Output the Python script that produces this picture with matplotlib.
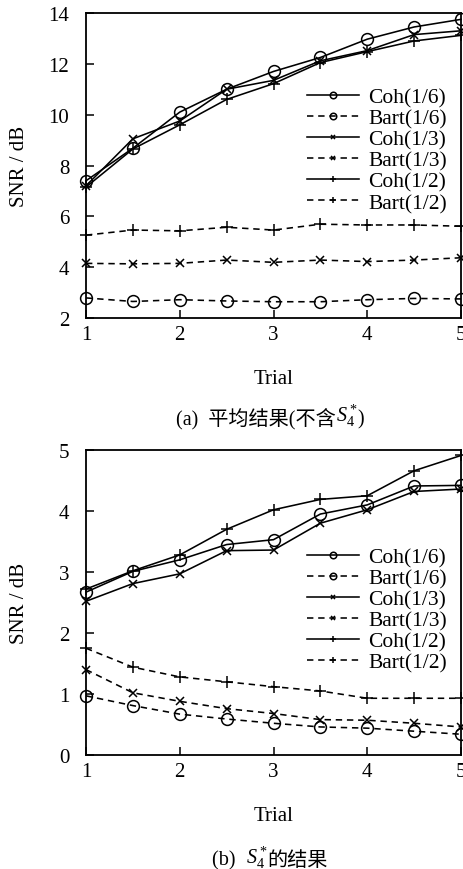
import matplotlib
matplotlib.use("Agg")
import matplotlib.pyplot as plt

# ---- data ----
trials = [1, 1.5, 2, 2.5, 3, 3.5, 4, 4.5, 5]
labels = ["Coh(1/6)", "Bart(1/6)", "Coh(1/3)", "Bart(1/3)", "Coh(1/2)", "Bart(1/2)"]

# (a) average results
a_coh16 = [7.4, 8.68, 10.1, 11.0, 11.7, 12.25, 12.97, 13.45, 13.75]
a_bart16 = [2.79, 2.65, 2.72, 2.67, 2.64, 2.64, 2.72, 2.77, 2.75]
a_coh13 = [7.2, 9.05, 9.75, 11.0, 11.35, 12.12, 12.52, 13.15, 13.3]
a_bart13 = [4.15, 4.13, 4.15, 4.28, 4.19, 4.28, 4.22, 4.28, 4.37]
a_coh12 = [7.15, 8.65, 9.6, 10.6, 11.22, 12.05, 12.48, 12.9, 13.12]
a_bart12 = [5.26, 5.46, 5.43, 5.57, 5.46, 5.69, 5.66, 5.66, 5.61]

# (b) S4* results
b_coh16 = [2.67, 3.01, 3.2, 3.45, 3.53, 3.95, 4.1, 4.41, 4.42]
b_bart16 = [0.97, 0.81, 0.67, 0.59, 0.52, 0.46, 0.44, 0.39, 0.34]
b_coh13 = [2.52, 2.81, 2.97, 3.35, 3.36, 3.8, 4.02, 4.32, 4.36]
b_bart13 = [1.4, 1.02, 0.88, 0.76, 0.68, 0.58, 0.57, 0.52, 0.46]
b_coh12 = [2.72, 3.02, 3.28, 3.7, 4.02, 4.19, 4.25, 4.66, 4.91]
b_bart12 = [1.75, 1.44, 1.28, 1.2, 1.12, 1.05, 0.93, 0.93, 0.93]

a_yticks = [2, 4, 6, 8, 10, 12, 14]
b_yticks = [0, 1, 2, 3, 4, 5]
xticks = [1, 2, 3, 4, 5]

plt.rcParams['font.family'] = ['Liberation Serif', 'Noto Sans CJK SC']
plt.rcParams['mathtext.fontset'] = 'custom'
plt.rcParams['mathtext.rm'] = 'Liberation Serif'
plt.rcParams['mathtext.it'] = 'Liberation Serif:italic'

FS = 15
LFS = 15.5
CFS = 14.5
fig = plt.figure(figsize=(4.63, 8.70), dpi=100)

styles = [
    dict(ls='-', marker='o', ms=8.5, mfc='none'),
    dict(ls=(0, (4, 3)), marker='o', ms=8.5, mfc='none'),
    dict(ls='-', marker='x', ms=6),
    dict(ls=(0, (4, 3)), marker='x', ms=6),
    dict(ls='-', marker='+', ms=9),
    dict(ls=(0, (4, 3)), marker='+', ms=9),
]


def caption(ax, y, parts):
    """Draw a caption made of consecutive pieces (plain text / mathtext)."""
    renderer = fig.canvas.get_renderer()
    texts = []
    prev = None
    for p in parts:
        if prev is None:
            t = ax.text(0.0, y, p, transform=ax.transAxes, ha='left',
                        va='baseline', fontsize=CFS)
        else:
            t = ax.annotate(p, xy=(1, 0), xycoords=prev, ha='left',
                            va='bottom', fontsize=CFS)
        texts.append(t)
        prev = t
    fig.canvas.draw()
    x0 = texts[0].get_window_extent(renderer).x0
    x1 = texts[-1].get_window_extent(renderer).x1
    axbb = ax.get_window_extent(renderer)
    center = 0.5 * (axbb.x0 + axbb.x1) - 3.5
    shift = center - 0.5 * (x0 + x1)
    texts[0].set_x((x0 + shift - axbb.x0) / axbb.width)


def draw(ax, series, ylim, yticks, legend_anchor):
    for s, st, lab in zip(series, styles, labels):
        ax.plot(trials, s, color='black', lw=1.15, mec='black', mew=1.1,
                label=lab, clip_on=False, **st)
    ax.set_xlim(1, 5)
    ax.set_ylim(*ylim)
    ax.set_xticks(xticks)
    ax.set_yticks(yticks)
    ax.tick_params(direction='in', length=6, width=1.1, labelsize=FS,
                   top=False, right=False)
    ax.tick_params(axis='y', pad=12)
    ax.tick_params(axis='x', pad=5)
    for sp in ax.spines.values():
        sp.set_linewidth(1.3)
    ax.set_ylabel('SNR / dB', fontsize=FS)
    ax.yaxis.set_label_coords(-0.152, 0.5)
    ax.set_xlabel('Trial', fontsize=FS, labelpad=18)
    ax.legend(loc='upper right', bbox_to_anchor=legend_anchor,
              frameon=False, fontsize=LFS, handlelength=2.45,
              markerscale=0.55, labelspacing=0.05, handletextpad=0.4,
              borderaxespad=0)


ax1 = fig.add_axes([86 / 463, 1 - 319 / 870, 375 / 463, 305 / 870])
draw(ax1, [a_coh16, a_bart16, a_coh13, a_bart13, a_coh12, a_bart12],
     (2, 14), a_yticks, (0.985, 0.785))

ax2 = fig.add_axes([86 / 463, 1 - 756 / 870, 375 / 463, 305 / 870])
draw(ax2, [b_coh16, b_bart16, b_coh13, b_bart13, b_coh12, b_bart12],
     (0, 5), b_yticks, (0.985, 0.71))

caption(ax1, -0.345, ['(a)  平均结果(不含', '$S_4^*$', ')'])
caption(ax2, -0.36, ['(b)  ', '$S_4^*$', '的结果'])

fig.savefig('out.png', dpi=100)
